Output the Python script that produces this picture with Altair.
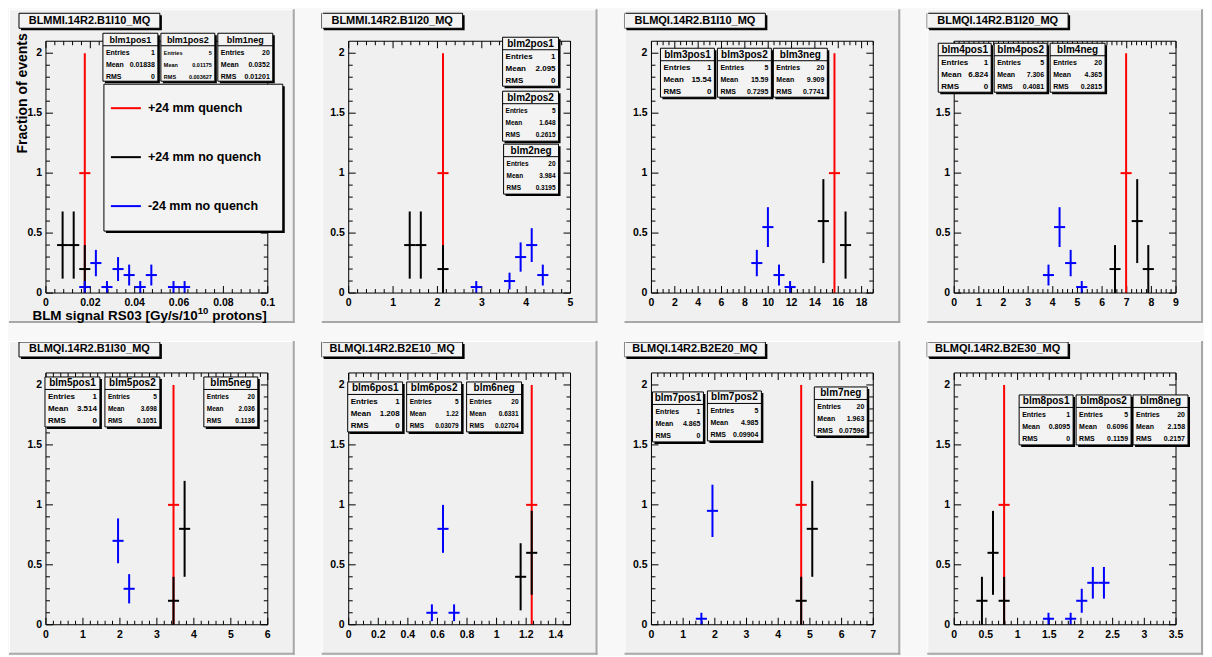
import altair as alt
import numpy as np
import pandas as pd

# ---------------------------------------------------------------- data
TITLES = ["BLMMI.14R2.B1I10_MQ", "BLMMI.14R2.B1I20_MQ", "BLMQI.14R2.B1I10_MQ", "BLMQI.14R2.B1I20_MQ",
          "BLMQI.14R2.B1I30_MQ", "BLMQI.14R2.B2E10_MQ", "BLMQI.14R2.B2E20_MQ", "BLMQI.14R2.B2E30_MQ"]
X_MAX = [0.1, 5, 19, 9, 6, 1.5, 7, 3.5]
X_MAJOR = [0.02, 1, 2, 1, 1, 0.2, 1, 0.5]
X_MINOR_DIV = [5, 5, 4, 5, 5, 4, 5, 5]
N_BINS = 20
Y_MAX = 2.1
Y_MAJOR = [0, 0.5, 1, 1.5, 2]
Y_MINOR_STEP = 0.1

# (bin centre, fraction of events, error)
P1_POS1 = [(0.0175, 1.0, 1.0)]
P1_POS2 = [(0.0075, 0.4, 0.28), (0.0125, 0.4, 0.28), (0.0175, 0.2, 0.2)]
P1_NEG = [(0.0175, 0.05, 0.05), (0.0225, 0.25, 0.11), (0.0275, 0.05, 0.05), (0.0325, 0.2, 0.1),
          (0.0375, 0.15, 0.087), (0.0425, 0.05, 0.05), (0.0475, 0.15, 0.087), (0.0575, 0.05, 0.05),
          (0.0625, 0.05, 0.05)]
P2_POS1 = [(2.125, 1.0, 1.0)]
P2_POS2 = [(1.375, 0.4, 0.28), (1.625, 0.4, 0.28), (2.125, 0.2, 0.2)]
P2_NEG = [(2.875, 0.05, 0.05), (3.625, 0.1, 0.07), (3.875, 0.3, 0.122), (4.125, 0.4, 0.141), (4.375, 0.15, 0.087)]
P3_POS1 = [(15.675, 1.0, 1.0)]
P3_POS2 = [(14.725, 0.6, 0.35), (16.625, 0.4, 0.28)]
P3_NEG = [(9.025, 0.25, 0.11), (9.975, 0.55, 0.166), (10.925, 0.15, 0.087), (11.875, 0.05, 0.05)]
P4_POS1 = [(6.975, 1.0, 1.0)]
P4_POS2 = [(6.525, 0.2, 0.2), (7.425, 0.6, 0.35), (7.875, 0.2, 0.2)]
P4_NEG = [(3.825, 0.15, 0.087), (4.275, 0.55, 0.166), (4.725, 0.25, 0.11), (5.175, 0.05, 0.05)]
P5_POS1 = [(3.45, 1.0, 1.0)]
P5_POS2 = [(3.45, 0.2, 0.2), (3.75, 0.8, 0.4)]
P5_NEG = [(1.95, 0.7, 0.187), (2.25, 0.3, 0.122)]
P6_POS1 = [(1.2375, 1.0, 1.0)]
P6_POS2 = [(1.1625, 0.4, 0.28), (1.2375, 0.6, 0.35)]
P6_NEG = [(0.5625, 0.1, 0.07), (0.6375, 0.8, 0.2), (0.7125, 0.1, 0.07)]
P7_POS1 = [(4.725, 1.0, 1.0)]
P7_POS2 = [(4.725, 0.2, 0.2), (5.075, 0.8, 0.4)]
P7_NEG = [(1.575, 0.05, 0.05), (1.925, 0.95, 0.218)]
P8_POS1 = [(0.7875, 1.0, 1.0)]
P8_POS2 = [(0.4375, 0.2, 0.2), (0.6125, 0.6, 0.35), (0.7875, 0.2, 0.2)]
P8_NEG = [(1.4875, 0.05, 0.05), (1.8375, 0.05, 0.05), (2.0125, 0.2, 0.1), (2.1875, 0.35, 0.132),
          (2.3625, 0.35, 0.132)]

# stat boxes: (name, entries, mean, rms)
P1_STATS = [("blm1pos1", "1", "0.01838", "0"), ("blm1pos2", "5", "0.01175", "0.003627"), ("blm1neg", "20", "0.0352", "0.01201")]
P2_STATS = [("blm2pos1", "1", "2.095", "0"), ("blm2pos2", "5", "1.648", "0.2615"), ("blm2neg", "20", "3.984", "0.3195")]
P3_STATS = [("blm3pos1", "1", "15.54", "0"), ("blm3pos2", "5", "15.59", "0.7295"), ("blm3neg", "20", "9.909", "0.7741")]
P4_STATS = [("blm4pos1", "1", "6.824", "0"), ("blm4pos2", "5", "7.306", "0.4081"), ("blm4neg", "20", "4.365", "0.2815")]
P5_STATS = [("blm5pos1", "1", "3.514", "0"), ("blm5pos2", "5", "3.698", "0.1051"), ("blm5neg", "20", "2.036", "0.1136")]
P6_STATS = [("blm6pos1", "1", "1.208", "0"), ("blm6pos2", "5", "1.22", "0.03079"), ("blm6neg", "20", "0.6331", "0.02704")]
P7_STATS = [("blm7pos1", "1", "4.865", "0"), ("blm7pos2", "5", "4.985", "0.09904"), ("blm7neg", "20", "1.963", "0.07596")]
P8_STATS = [("blm8pos1", "1", "0.8095", "0"), ("blm8pos2", "5", "0.6096", "0.1159"), ("blm8neg", "20", "2.158", "0.2157")]
STAT_ROWS = ["Entries", "Mean", "RMS"]

LEGEND_LABELS = ["+24 mm quench", "+24 mm no quench", "-24 mm no quench"]
X_TITLE_PARTS = ["BLM signal RS03 [Gy/s/10", "10", " protons]"]   # middle part is a superscript
Y_TITLE = "Fraction of events"

SERIES = [(P1_POS1, P1_POS2, P1_NEG), (P2_POS1, P2_POS2, P2_NEG), (P3_POS1, P3_POS2, P3_NEG),
          (P4_POS1, P4_POS2, P4_NEG), (P5_POS1, P5_POS2, P5_NEG), (P6_POS1, P6_POS2, P6_NEG),
          (P7_POS1, P7_POS2, P7_NEG), (P8_POS1, P8_POS2, P8_NEG)]
STATS = [P1_STATS, P2_STATS, P3_STATS, P4_STATS, P5_STATS, P6_STATS, P7_STATS, P8_STATS]

# ---------------------------------------------------------------- style / layout
COLORS = ["#ff0000", "#000000", "#0000ff"]
W, H = 222, 252
FONT = "Liberation Sans"
PAD_FILL = "#f0f0f0"
BOX_FILL = "#f3f3f3"
BG = "#f8f8f8"
MAJ_LEN, MIN_LEN = 7, 4
LABEL_FS = 10.5
# stat box layout relative to plot origin: (x0, y0, w, h, row font, title font)
BOX_LAYOUT = [
    [(57, -8, 57, 50, 7, 9), (115, -8, 56, 50, 5.5, 9), (172, -8, 57, 50, 7, 9)],
    [(154, -4, 58, 51, 8, 10), (154, 50, 58, 52, 6.5, 10), (155, 103, 57, 52, 6.5, 10)],
    [(9, 7, 56, 51, 8, 10), (66, 7, 56, 51, 7, 10), (122, 7, 56, 51, 7, 10)],
    [(-16, 2, 55, 51, 8, 10), (40, 2, 55, 51, 7, 10), (96, 2, 57, 51, 7, 10)],
    [(-1, 4, 57, 52, 8, 10), (59, 4, 57, 52, 6.5, 10), (158, 4, 56, 52, 6.5, 10)],
    [(-1, 9, 57, 52, 8, 10), (58, 9, 57, 52, 6.5, 10), (118, 9, 57, 52, 6.5, 10)],
    [(1, 19, 53, 52, 7, 10), (56, 18, 56, 52, 7, 10), (163, 14, 55, 51, 7, 10)],
    [(65, 22, 56, 52, 7, 10), (122, 22, 57, 52, 7, 10), (179, 22, 57, 52, 7, 10)],
]


def pix(field):
    return alt.X(field, scale=None, axis=None)


def piy(field):
    return alt.Y(field, scale=None, axis=None)


def rect_layer(rows):
    df = pd.DataFrame(rows, columns=["x1", "x2", "y1", "y2", "f", "s"])
    return alt.Chart(df).mark_rect(strokeWidth=1).encode(
        x=pix("x1:Q"), x2="x2:Q", y=piy("y1:Q"), y2="y2:Q",
        fill=alt.Fill("f:N", scale=None), stroke=alt.Stroke("s:N", scale=None))


def line_layer(rows):
    df = pd.DataFrame(rows, columns=["x1", "x2", "y1", "y2", "c", "w"])
    return alt.Chart(df).mark_rule().encode(
        x=pix("x1:Q"), x2="x2:Q", y=piy("y1:Q"), y2="y2:Q",
        color=alt.Color("c:N", scale=None),
        strokeWidth=alt.StrokeWidth("w:Q", scale=None))


def text_layer(rows, align, weight="bold", angle=0):
    df = pd.DataFrame(rows, columns=["px", "py", "txt", "fs"])
    return alt.Chart(df).mark_text(align=align, baseline="middle", font=FONT, fontWeight=weight,
                                   color="black", angle=angle).encode(
        x=pix("px:Q"), y=piy("py:Q"), text="txt:N",
        size=alt.Size("fs:Q", scale=None, legend=None))


def fmt(v):
    return f"{v:g}"


def panel(i):
    xmax = X_MAX[i]
    hw = xmax / N_BINS / 2.0
    col, row = i % 4, i // 4
    xs = alt.Scale(domain=[0, xmax], nice=False, zero=False)
    ys = alt.Scale(domain=[0, Y_MAX], nice=False, zero=False)

    major_x = [round(float(v), 6) for v in np.arange(0, xmax + 1e-9, X_MAJOR[i])]
    step_min = X_MAJOR[i] / X_MINOR_DIV[i]
    minor_x = [round(float(v), 6) for v in np.arange(0, xmax + 1e-9, step_min)]
    minor_x = [v for v in minor_x if all(abs(v - m) > 1e-9 for m in major_x)]
    minor_y = [round(float(v), 6) for v in np.arange(0, Y_MAX - 1e-9, Y_MINOR_STEP)]
    minor_y = [v for v in minor_y if all(abs(v - m) > 1e-9 for m in Y_MAJOR)]

    layers = []
    # ---- pad background + title box
    cx0 = -37 if col == 0 else -27
    cy0, cy1, cx1 = -32, 282, 249
    ty0, ty1 = (-28, -13) if row == 0 else (-31, -16)
    layers.append(rect_layer([
        (cx0, cx1, cy0, cy1, PAD_FILL, "transparent"),
        (-25, 116, ty0 + 2, ty1 + 2, "#000000", "transparent"),
        (-27, 114, ty0, ty1, BOX_FILL, "#000000"),
    ]))
    layers.append(line_layer([
        (cx0, cx1, cy0 + 0.5, cy0 + 0.5, "#ffffff", 1),
        (cx0 + 0.5, cx0 + 0.5, cy0, cy1, "#ffffff", 1),
        (cx1 - 1, cx1 - 1, cy0, cy1, "#a8a8a8", 2),
        (cx0, cx1, cy1 - 1, cy1 - 1, "#a8a8a8", 2),
    ]))
    layers.append(text_layer([((-27 + 114) / 2.0, (ty0 + ty1) / 2.0, TITLES[i], 11)], "center"))

    # ---- ticks on all four sides
    xt = []
    for v in major_x:
        xt += [(v, H, H - MAJ_LEN), (v, 0, MAJ_LEN)]
    for v in minor_x:
        xt += [(v, H, H - MIN_LEN), (v, 0, MIN_LEN)]
    layers.append(alt.Chart(pd.DataFrame(xt, columns=["t", "a", "b"])).mark_rule(color="black", strokeWidth=1).encode(
        x=alt.X("t:Q", scale=xs, axis=None), y=piy("a:Q"), y2="b:Q"))
    yt = []
    for v in Y_MAJOR:
        yt += [(v, 0, MAJ_LEN), (v, W, W - MAJ_LEN)]
    for v in minor_y:
        yt += [(v, 0, MIN_LEN), (v, W, W - MIN_LEN)]
    layers.append(alt.Chart(pd.DataFrame(yt, columns=["t", "a", "b"])).mark_rule(color="black", strokeWidth=1).encode(
        y=alt.Y("t:Q", scale=ys, axis=None), x=pix("a:Q"), x2="b:Q"))

    # ---- tick labels (placed through the scales)
    xl = pd.DataFrame({"t": major_x, "lab": [fmt(v) for v in major_x]})
    layers.append(alt.Chart(xl).mark_text(align="center", baseline="middle", font=FONT, fontWeight="bold",
                                          fontSize=LABEL_FS, color="black").encode(
        x=alt.X("t:Q", scale=xs, axis=None), y=alt.value(H + 10), text="lab:N"))
    yl = pd.DataFrame({"t": Y_MAJOR, "lab": [fmt(v) for v in Y_MAJOR]})
    layers.append(alt.Chart(yl).mark_text(align="right", baseline="middle", font=FONT, fontWeight="bold",
                                          fontSize=LABEL_FS, color="black").encode(
        y=alt.Y("t:Q", scale=ys, axis=None), x=alt.value(-4), text="lab:N"))

    # ---- histogram error crosses
    pts = []
    for s, series in enumerate(SERIES[i]):
        for (xc, v, e) in series:
            pts.append(dict(xa=xc, xb=xc, ya=max(v - e, 0), yb=v + e, c=COLORS[s]))
            pts.append(dict(xa=xc - hw, xb=xc + hw, ya=v, yb=v, c=COLORS[s]))
    layers.append(alt.Chart(pd.DataFrame(pts)).mark_rule(strokeWidth=2).encode(
        x=alt.X("xa:Q", scale=xs, axis=None), x2="xb:Q",
        y=alt.Y("ya:Q", scale=ys, axis=None), y2="yb:Q",
        color=alt.Color("c:N", scale=None)))

    # ---- frame
    layers.append(rect_layer([(0, W, 0, H, "transparent", "#000000")]))

    # ---- stat boxes
    rects, lines, titles, labels, values = [], [], [], [], []
    for (name, ent, mean, rms), (x0, y0, w, h, fs, tfs) in zip(STATS[i], BOX_LAYOUT[i]):
        rects.append((x0 + 2, x0 + w, y0 + 2, y0 + h, "#000000", "transparent"))
        rects.append((x0, x0 + w - 2, y0, y0 + h - 2, BOX_FILL, "#000000"))
        lines.append((x0, x0 + w - 2, y0 + 12.5, y0 + 12.5, "#000000", 1))
        titles.append((x0 + (w - 2) / 2.0, y0 + 6.5, name, tfs))
        for k, (lab, val) in enumerate(zip(STAT_ROWS, (ent, mean, rms))):
            yy = y0 + 20 + 12 * k
            labels.append((x0 + 3, yy, lab, fs))
            values.append((x0 + w - 5, yy, val, fs))

    if i == 0:
        rects.append((60, 239, 45, 192, "#000000", "transparent"))
        rects.append((58, 237, 43, 190, BOX_FILL, "#000000"))
        for k, c in enumerate(COLORS):
            yy = 67 + 49 * k
            lines.append((65, 95, yy, yy, c, 2))
            labels.append((102, yy, LEGEND_LABELS[k], 12.5))

    layers.append(rect_layer(rects))
    layers.append(line_layer(lines))
    layers.append(text_layer(titles, "center"))
    layers.append(text_layer(labels, "left"))
    layers.append(text_layer(values, "right"))

    if i == 0:
        xr = W - 1          # right end of the x title
        tail_w = 58.5       # width of " protons]" at 13.5px bold
        sup_w = 10.5        # width of superscript "10" at 9.5px bold
        layers.append(text_layer([
            (xr, H + 23, X_TITLE_PARTS[2], 13.5),
            (xr - tail_w - sup_w, H + 23, X_TITLE_PARTS[0], 13.5),
        ], "right"))
        layers.append(text_layer([(xr - tail_w, H + 18, X_TITLE_PARTS[1], 9.5)], "right"))
        layers.append(text_layer([(-23, -8, Y_TITLE, 14)], "right", angle=270))

    return alt.layer(*layers).properties(width=W, height=H)


chart = alt.concat(*[panel(i) for i in range(8)], columns=4,
                   spacing={"row": 80, "column": 81}, bounds="flush").properties(
    padding=0, background=BG
).configure_view(strokeWidth=0)

chart.save("out.html", embed_options={"renderer": "svg", "actions": False})
